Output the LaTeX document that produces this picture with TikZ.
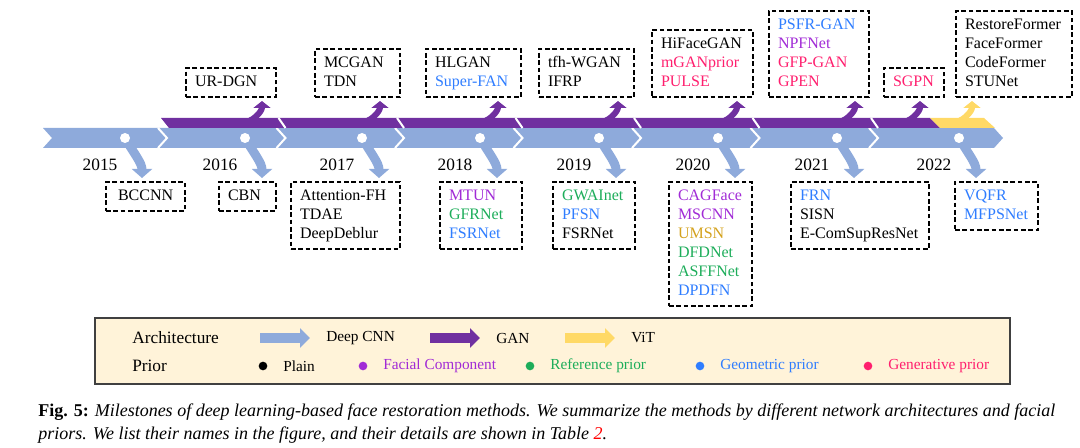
\documentclass[tikz,border=0pt]{standalone}
\usepackage{fontspec}
\setmainfont{Liberation Serif}
\usetikzlibrary{arrows.meta,calc}
\definecolor{cnn}{HTML}{8EAADB}
\definecolor{gan}{HTML}{7030A0}
\definecolor{vit}{HTML}{FFD966}
\definecolor{facial}{HTML}{A12BD6}
\definecolor{refer}{HTML}{1DAD5A}
\definecolor{geo}{HTML}{2F7DFF}
\definecolor{gen}{HTML}{FF1F6E}
\definecolor{umsn}{HTML}{D4A21E}
\definecolor{legendbg}{HTML}{FFF3D9}
\newcommand\meth[2][black]{\textcolor{#1}{\strut#2}}
\begin{document}
\begin{tikzpicture}[x=0.75pt,y=0.75pt,
  methodbox/.style={draw,dash pattern=on 3.6pt off 1.9pt,line width=1.5pt,inner xsep=6.75pt,inner ysep=3.75pt,
    align=left,font=\fontsize{12}{14.25}\selectfont},
  yeardot/.style={circle,fill=white,inner sep=0pt,minimum size=7.5pt},
  yearlabel/.style={font=\fontsize{13}{15}\selectfont},
  uparr/.style={line width=4.5pt,-{Triangle[length=5.25pt,width=12.75pt]},shorten >=2.25pt},
  downarr/.style={cnn,line width=6.75pt,-{Triangle[length=6.75pt,width=15pt]},shorten >=2.25pt},
  legarr/.style={line width=7.5pt,-{Triangle[length=7.5pt,width=14.25pt]}},
  legdot/.style={circle,inner sep=0pt,minimum size=6.5pt},
  legtext/.style={anchor=west,inner sep=0pt,font=\fontsize{11.5}{13}\selectfont}]
\useasboundingbox (0,0) rectangle (1080,-448);

\node[methodbox,text width=54pt,anchor=south west] (u1) at (185,-98) {\meth{UR-DGN}};
\node[methodbox,text width=50.25pt,anchor=south west] (u2) at (314,-98) {\meth{MCGAN}\\\meth{TDN}};
\node[methodbox,text width=57.75pt,anchor=south west] (u3) at (425,-98) {\meth{HLGAN}\\\meth[geo]{Super-FAN}};
\node[methodbox,text width=57.75pt,anchor=south west] (u4) at (538,-98) {\meth{tfh-WGAN}\\\meth{IFRP}};
\node[methodbox,text width=62.25pt,anchor=south west] (u5) at (651,-98) {\meth{HiFaceGAN}\\\meth[gen]{mGANprior}\\\meth[gen]{PULSE}};
\node[methodbox,text width=61.5pt,anchor=south west] (u6) at (768,-98) {\meth[geo]{PSFR-GAN}\\\meth[facial]{NPFNet}\\\meth[gen]{GFP-GAN}\\\meth[gen]{GPEN}};
\node[methodbox,text width=31.5pt,anchor=south west] (u7) at (883,-98) {\meth[gen]{SGPN}};
\node[methodbox,text width=73.5pt,anchor=south west] (u8) at (955,-98) {\meth{RestoreFormer}\\\meth{FaceFormer}\\\meth{CodeFormer}\\\meth{STUNet}};

\node[methodbox,text width=41.25pt,inner xsep=9pt,anchor=north west] (d1) at (105,-181) {\meth{BCCNN}};
\node[methodbox,text width=29.25pt,anchor=north west] (d2) at (218,-181) {\meth{CBN}};
\node[methodbox,text width=68.25pt,anchor=north west] (d3) at (290,-181) {\meth{Attention-FH}\\\meth{TDAE}\\\meth{DeepDeblur}};
\node[methodbox,text width=48pt,anchor=north west] (d4) at (439,-181) {\meth[facial]{MTUN}\\\meth[refer]{GFRNet}\\\meth[geo]{FSRNet}};
\node[methodbox,text width=48pt,anchor=north west] (d5) at (552,-181) {\meth[refer]{GWAInet}\\\meth[geo]{PFSN}\\\meth{FSRNet}};
\node[methodbox,text width=48.75pt,anchor=north west] (d6) at (668,-181) {\meth[facial]{CAGFace}\\\meth[facial]{MSCNN}\\\meth[umsn]{UMSN}\\\meth[refer]{DFDNet}\\\meth[refer]{ASFFNet}\\\meth[geo]{DPDFN}};
\node[methodbox,text width=90pt,anchor=north west] (d7) at (790,-181) {\meth[geo]{FRN}\\\meth{SISN}\\\meth{E-ComSupResNet}};
\node[methodbox,text width=48.75pt,anchor=north west] (d8) at (954,-181) {\meth[geo]{VQFR}\\\meth[geo]{MFPSNet}};

\fill[cnn] (43,-128) -- (994,-128) -- (1003,-138) -- (994,-148) -- (43,-148) -- (52,-138) -- cycle;
\foreach \tp in {167,285.5,404,522.5,641,759.5,878}
  \draw[white,line width=1.5pt] (\tp-9,-128) -- (\tp,-138) -- (\tp-9,-148);
\fill[gan] (161,-118) -- (930,-118) -- (940,-128) -- (169,-128) -- cycle;
\fill[vit] (930,-118) -- (984,-118) -- (995,-128) -- (940,-128) -- cycle;
\foreach \tp in {285.5,404,522.5,641,759.5,878}
  \draw[white,line width=1.5pt] (\tp-7,-118) -- (\tp,-128);

\foreach \dx [count=\i] in {125,245,362,480,599,718,837,959}
  \coordinate (c\i) at (\dx,-138);

\foreach \x/\bx/\clr in {262/u1/gan,380/u2/gan,498/u3/gan,618/u4/gan,737/u5/gan,855/u6/gan,920/u7/gan,972/u8/vit}{
  \coordinate (s\bx) at (\x-22,-123);
  \coordinate (t\bx) at (\x,0);
  \draw[uparr,\clr] (s\bx) to[out=0,in=-90] (t\bx |- \bx.south);
}
\foreach \i in {1,...,8}{
  \coordinate (e\i) at ($(c\i)+(17,0)$);
  \draw[downarr] (c\i) to[out=-60,in=90] (e\i |- d\i.north);
}
\foreach \y [count=\i] in {2015,...,2022}{
  \node[yeardot] (dot\i) at (c\i) {};
  \node[yearlabel] (yr\i) at ($(c\i)+(-25,-27)$) {\y};
}

\draw[fill=legendbg,draw=black!75,line width=1.1pt] (95,-318) rectangle (1010,-384);
\node[anchor=west,inner sep=0pt,font=\fontsize{13}{15}\selectfont] (arch) at (132,-338) {Architecture};
\node[anchor=west,inner sep=0pt,font=\fontsize{13}{15}\selectfont] (prior) at (132,-366) {Prior};
\foreach \x/\clr/\name in {260/cnn/Deep CNN,430/gan/GAN,565/vit/ViT}{
  \node[legtext] (l\clr) at (\x+66,-338) {\name};
  \draw[legarr,\clr] (\x,-338) -- ([xshift=-12pt]l\clr.west);
}
\foreach \x/\clr/\name in {263/black/Plain,363/facial/Facial Component,530/refer/Reference prior,700/geo/Geometric prior,868/gen/Generative prior}{
  \node[legdot,fill=\clr] (p\clr) at (\x,-366) {};
  \node[legtext,text=\clr] (pl\clr) at (\x+20,-366) {\name};
}

\node[anchor=north west,inner sep=0pt,align=left,font=\fontsize{13.5}{17.25}\selectfont] (cap) at (38,-404)
  {\textbf{Fig. 5:} \textit{Milestones of deep learning-based face restoration methods. We summarize the methods by different network architectures and facial}\\
   \textit{priors. We list their names in the figure, and their details are shown in Table \textcolor{red}{2}.}};
\end{tikzpicture}
\end{document}
